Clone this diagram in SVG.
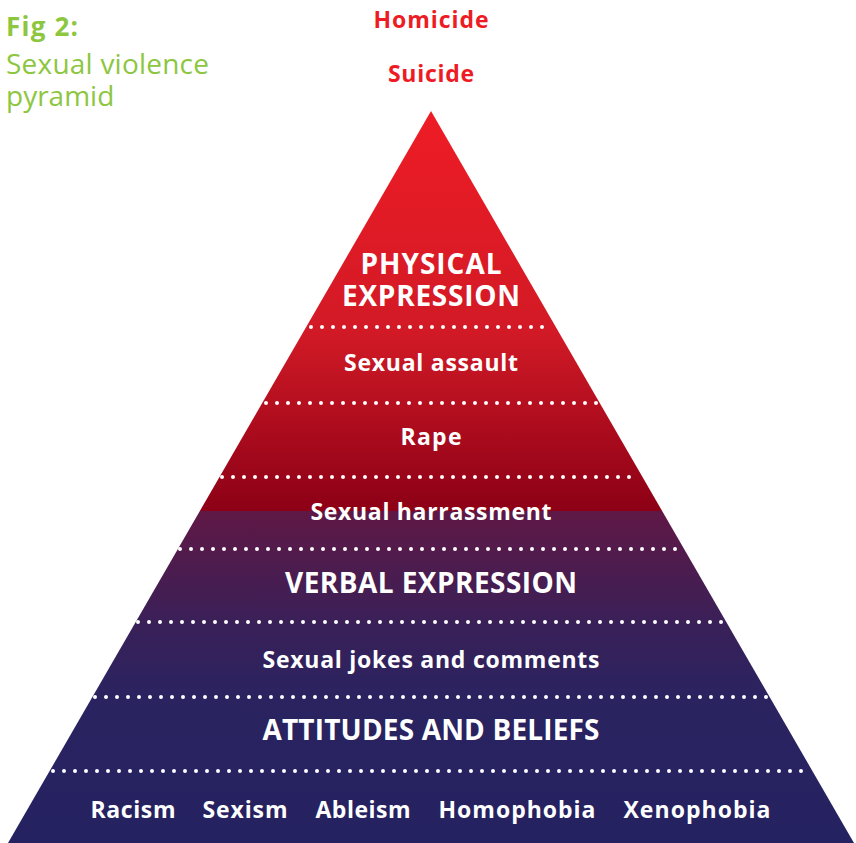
<svg xmlns="http://www.w3.org/2000/svg" width="856" height="843" viewBox="0 0 856 843">
<defs>
<linearGradient id="pyr" gradientUnits="userSpaceOnUse" x1="0" y1="111" x2="0" y2="843">
<stop offset="0" stop-color="#EE1C25"/>
<stop offset="0.30" stop-color="#D21A26"/>
<stop offset="0.547" stop-color="#8C0016"/>
<stop offset="0.547" stop-color="#5F1845"/>
<stop offset="0.70" stop-color="#3A2058"/>
<stop offset="0.80" stop-color="#2A2360"/>
<stop offset="1" stop-color="#252261"/>
</linearGradient>
<style>
.t{font-family:"Open Sans","DejaVu Sans",sans-serif;font-weight:bold;fill:#fff;text-anchor:middle}
.big{font-size:28px}
.med{font-size:23px}
.red{font-family:"Open Sans","DejaVu Sans",sans-serif;font-weight:bold;fill:#ED1C24;text-anchor:middle;font-size:23px}
.g{font-family:"Open Sans","DejaVu Sans",sans-serif;fill:#8DC63F}
.dot{stroke:#fff;stroke-width:4;stroke-linecap:round;stroke-dasharray:0 11;fill:none}
</style>
</defs>
<g id="title">
<text class="g" x="6" y="36" font-size="26" font-weight="bold" textLength="72">Fig 2:</text>
<text class="g" x="6" y="74" font-size="28" textLength="203">Sexual violence</text>
<text class="g" x="6" y="106" font-size="28">pyramid</text>
</g>
<g id="top-labels">
<text class="red" x="431" y="28" textLength="115">Homicide</text>
<text class="red" x="431" y="82" textLength="86">Suicide</text>
</g>
<g id="pyramid">
<polygon points="431,111 8,843 854,843" fill="url(#pyr)"/>
</g>
<g id="separators">
<line class="dot" x1="311" y1="327" x2="553" y2="327"/>
<line class="dot" x1="266" y1="403" x2="598" y2="403"/>
<line class="dot" x1="222" y1="477" x2="640" y2="477"/>
<line class="dot" x1="180" y1="549" x2="682" y2="549"/>
<line class="dot" x1="138" y1="622" x2="724" y2="622"/>
<line class="dot" x1="95" y1="697" x2="767" y2="697"/>
<line class="dot" x1="53" y1="771" x2="809" y2="771"/>
</g>
<g id="physical"><text class="t big" x="431" y="274" textLength="141">PHYSICAL</text><text class="t big" x="431" y="306" textLength="178">EXPRESSION</text></g>
<g id="assault"><text class="t med" x="431" y="371" textLength="174">Sexual assault</text></g>
<g id="rape"><text class="t med" x="431" y="445" textLength="61">Rape</text></g>
<g id="harrassment"><text class="t med" x="431" y="520" textLength="241">Sexual harrassment</text></g>
<g id="verbal"><text class="t big" x="431" y="593" textLength="292">VERBAL EXPRESSION</text></g>
<g id="jokes"><text class="t med" x="431" y="668" textLength="337">Sexual jokes and comments</text></g>
<g id="attitudes"><text class="t big" x="431" y="740" textLength="337">ATTITUDES AND BELIEFS</text></g>
<g id="isms">
<text class="t med" x="133" y="818" textLength="85">Racism</text>
<text class="t med" x="245" y="818" textLength="85">Sexism</text>
<text class="t med" x="363" y="818" textLength="95">Ableism</text>
<text class="t med" x="517" y="818" textLength="157">Homophobia</text>
<text class="t med" x="697" y="818" textLength="147">Xenophobia</text>
</g>
</svg>
